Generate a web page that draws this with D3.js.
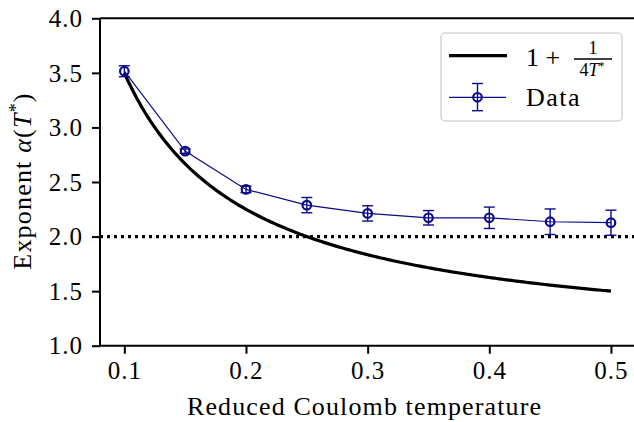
<!DOCTYPE html>
<html>
<head>
<meta charset="utf-8">
<script src="https://cdn.jsdelivr.net/npm/d3@7"></script>
<style>
  html, body { margin: 0; padding: 0; background: white; }
  svg text { font-family: "Liberation Serif", "DejaVu Serif", serif; fill: black; }
</style>
</head>
<body>
<svg id="chart" width="634" height="422"></svg>
<script>
// data
var temps = [0.1, 0.15, 0.2, 0.25, 0.3, 0.35, 0.4, 0.45, 0.5];
var alphas = [3.515, 2.783, 2.432, 2.288, 2.212, 2.172, 2.172, 2.136, 2.127];
var errs = [0.05, 0.02, 0.03, 0.07, 0.07, 0.066, 0.098, 0.117, 0.115];
var xticks = [0.1, 0.2, 0.3, 0.4, 0.5];
var yticks = [1.0, 1.5, 2.0, 2.5, 3.0, 3.5, 4.0];
var refLevel = 2.0;

//layout
var plot_left = 100;
var plot_right = 635.3;
var plot_top = 18.3;
var plot_bottom = 345.7;
var tick_len = 8;
var data_color = "#0a0a8a";

var svg = d3.select("#chart");

var x = d3.scaleLinear().domain([0.08, 0.52]).range([plot_left, plot_right]);
var y = d3.scaleLinear().domain([1.0, 4.0]).range([plot_bottom, plot_top]);

// theory curve 1 + 1/(4T)
var curveT = d3.range(0, 201).map(i => 0.1 + i * 0.4 / 200);
var theory = d3.line().x(t => x(t)).y(t => y(1 + 1 / (4 * t)));

var plot = svg.append("g");

// dotted reference line
plot.append("line")
    .attr("x1", plot_left).attr("x2", plot_right)
    .attr("y1", y(refLevel)).attr("y2", y(refLevel))
    .style("stroke", "black").style("stroke-width", 3.2)
    .style("stroke-dasharray", "3,4");

plot.append("path").datum(curveT)
    .attr("d", theory)
    .style("fill", "none").style("stroke", "black").style("stroke-width", 3.2);

// data line
var dataLine = d3.line().x((d, i) => x(temps[i])).y(d => y(d));
plot.append("path").datum(alphas)
    .attr("d", dataLine)
    .style("fill", "none").style("stroke", data_color).style("stroke-width", 1.2);

//error bars
var eb = plot.selectAll(".eb").data(alphas).enter().append("g").classed("eb", true);
eb.append("line")
    .attr("x1", (d, i) => x(temps[i])).attr("x2", (d, i) => x(temps[i]))
    .attr("y1", (d, i) => y(d - errs[i])).attr("y2", (d, i) => y(d + errs[i]))
    .style("stroke", data_color).style("stroke-width", 1.4);
[-1, 1].forEach(function (s) {
    eb.append("line")
        .attr("x1", (d, i) => x(temps[i]) - 5.5).attr("x2", (d, i) => x(temps[i]) + 5.5)
        .attr("y1", (d, i) => y(d + s * errs[i])).attr("y2", (d, i) => y(d + s * errs[i]))
        .style("stroke", data_color).style("stroke-width", 1.4);
});
eb.append("circle")
    .attr("cx", (d, i) => x(temps[i])).attr("cy", d => y(d)).attr("r", 4.3)
    .style("fill", "none").style("stroke", data_color).style("stroke-width", 2.2);

// axes
var xAxis = d3.axisBottom(x).tickValues(xticks).tickFormat(d3.format(".1f")).tickSize(tick_len).tickPadding(8);
var yAxis = d3.axisLeft(y).tickValues(yticks).tickFormat(d3.format(".1f")).tickSize(tick_len).tickPadding(9);

var gx = svg.append("g").attr("transform", `translate(0,${plot_bottom})`).call(xAxis);
var gy = svg.append("g").attr("transform", `translate(${plot_left},0)`).call(yAxis);
[gx, gy].forEach(function (g) {
    g.select(".domain").remove();
    g.selectAll(".tick line").style("stroke", "black").style("stroke-width", 2);
    g.selectAll(".tick text").style("font-size", "25px").style("letter-spacing", "1px")
        .style("font-family", "Liberation Serif, serif");
});
gx.selectAll(".tick text").attr("dy", "0.68em");
gy.selectAll(".tick text").attr("dy", "0.33em");

// spines
svg.append("line").attr("x1", plot_left).attr("x2", plot_right).attr("y1", plot_bottom).attr("y2", plot_bottom)
    .style("stroke", "black").style("stroke-width", 2);
svg.append("line").attr("x1", plot_left).attr("x2", plot_right).attr("y1", plot_top).attr("y2", plot_top)
    .style("stroke", "black").style("stroke-width", 2);
svg.append("line").attr("x1", plot_left).attr("x2", plot_left).attr("y1", plot_top).attr("y2", plot_bottom)
    .style("stroke", "black").style("stroke-width", 2);
svg.append("line").attr("x1", plot_right).attr("x2", plot_right).attr("y1", plot_top).attr("y2", plot_bottom)
    .style("stroke", "black").style("stroke-width", 2);

// axis labels
svg.append("text").attr("x", 364).attr("y", 415).attr("text-anchor", "middle")
    .attr("textLength", 354).attr("lengthAdjust", "spacing")
    .style("font-size", "26px").text("Reduced Coulomb temperature");

var ylab = svg.append("text").attr("transform", "translate(31,181) rotate(-90)").attr("text-anchor", "middle")
    .style("font-size", "26px").style("letter-spacing", "1.2px");
ylab.append("tspan").text("Exponent ");
ylab.append("tspan").style("font-style", "italic").text("α");
ylab.append("tspan").text("(");
ylab.append("tspan").style("font-style", "italic").text("T");
ylab.append("tspan").attr("dy", -9).style("font-size", "18px").text("*");
ylab.append("tspan").attr("dy", 9).text(")");

//legend
var lg = svg.append("g");
lg.append("rect").attr("x", 441).attr("y", 33).attr("width", 181).attr("height", 88).attr("rx", 4)
    .style("fill", "white").style("fill-opacity", 0.8).style("stroke", "#d5d5d5").style("stroke-width", 1.5);
lg.append("line").attr("x1", 449).attr("x2", 507).attr("y1", 55.7).attr("y2", 55.7)
    .style("stroke", "black").style("stroke-width", 3.2);
lg.append("text").attr("x", 526).attr("y", 65.7).style("font-size", "26px").attr("xml:space", "preserve").text("1 + ");
lg.append("line").attr("x1", 574).attr("x2", 612).attr("y1", 59).attr("y2", 59)
    .style("stroke", "black").style("stroke-width", 1.3);
lg.append("text").attr("x", 593).attr("y", 54).attr("text-anchor", "middle").style("font-size", "18px").text("1");
var den = lg.append("text").attr("x", 592).attr("y", 75.5).attr("text-anchor", "middle").style("font-size", "18px");
den.append("tspan").text("4");
den.append("tspan").style("font-style", "italic").text("T");
den.append("tspan").attr("dy", -6).style("font-size", "12px").text("*");

lg.append("line").attr("x1", 449).attr("x2", 506).attr("y1", 97.3).attr("y2", 97.3)
    .style("stroke", data_color).style("stroke-width", 1.2);
lg.append("line").attr("x1", 477.5).attr("x2", 477.5).attr("y1", 83.5).attr("y2", 110.7)
    .style("stroke", data_color).style("stroke-width", 1.4);
[83.5, 110.7].forEach(function (cy) {
    lg.append("line").attr("x1", 472).attr("x2", 483).attr("y1", cy).attr("y2", cy)
        .style("stroke", data_color).style("stroke-width", 1.4);
});
lg.append("circle").attr("cx", 477.5).attr("cy", 97.3).attr("r", 4.3)
    .style("fill", "none").style("stroke", data_color).style("stroke-width", 2.2);
lg.append("text").attr("x", 526).attr("y", 106).style("font-size", "26px").style("letter-spacing", "1.5px").text("Data");
</script>
</body>
</html>
